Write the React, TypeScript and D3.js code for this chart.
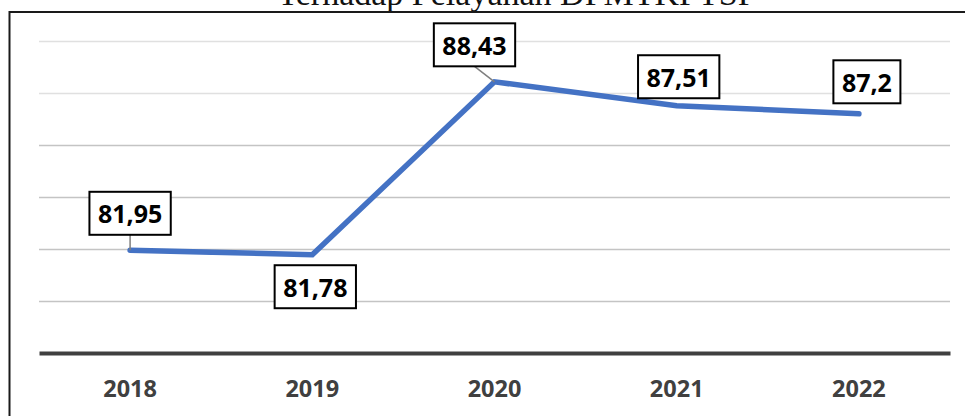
import React, { useRef, useEffect } from 'react';
import * as d3 from 'd3';

const years = ['2018', '2019', '2020', '2021', '2022'];
const scores = [81.95, 81.78, 88.43, 87.51, 87.2];
const scoreLabels = ['81,95', '81,78', '88,43', '87,51', '87,2'];
const gridValues = [80, 82, 84, 86, 88, 90];
const titleText = 'Terhadap Pelayanan DPMTKPTSP';

// where each label box sits relative to its point
const labelOffsets: [number, number][] = [[0, -37], [3, 32], [-20, -37], [2, -29], [8, -32]];

const W = 965;
const H = 416;

const App: React.FC = () => {
  const svgRef = useRef<SVGSVGElement | null>(null);

  useEffect(() => {
    const svg = d3.select(svgRef.current);
    svg.selectAll('*').remove();

    const left = 39, right = 950, top = 41, bottom = 353;

    const x = d3.scaleBand().domain(years).range([left, right]);
    const y = d3.scaleLinear().domain([78, 90]).range([bottom, top]);
    const cx = (d: string) => (x(d) || 0) + x.bandwidth() / 2;

    // title (cut at top, like the source) and frame
    svg.append('text')
      .attr('x', 517)
      .attr('y', 5)
      .attr('text-anchor', 'middle')
      .style('font-family', '"Liberation Serif", "Times New Roman", serif')
      .style('font-size', '34px')
      .attr('fill', '#111')
      .text(titleText);

    svg.append('path')
      .attr('d', `M9.5,${H} L9.5,12 L${W},12`)
      .attr('fill', 'none')
      .attr('stroke', '#1a1a1a')
      .attr('stroke-width', 2);

    // gridlines
    svg.append('g')
      .selectAll('line')
      .data(gridValues)
      .enter()
      .append('line')
      .attr('x1', left)
      .attr('x2', right)
      .attr('y1', d => Math.round(y(d)) + 0.5)
      .attr('y2', d => Math.round(y(d)) + 0.5)
      .attr('stroke', d => (d >= 88 ? '#e0e0e0' : '#c4c4c4'))
      .attr('stroke-width', 1.5);

    // x axis
    const xAxis = svg.append('g')
      .attr('transform', `translate(0, ${bottom})`)
      .call(d3.axisBottom(x).tickSize(0).tickPadding(27));
    xAxis.select('.domain')
      .attr('stroke', '#404040')
      .attr('stroke-width', 4);
    xAxis.selectAll('text')
      .attr('fill', '#404040')
      .style('font-family', '"Open Sans", sans-serif')
      .style('font-weight', 700)
      .style('font-size', '23.5px');

    // line
    const line = d3.line<number>()
      .x((_, i) => cx(years[i]))
      .y(d => y(d));

    svg.append('path')
      .datum(scores)
      .attr('d', line)
      .attr('fill', 'none')
      .attr('stroke', '#4472C4')
      .attr('stroke-width', 5.5)
      .attr('stroke-linecap', 'round')
      .attr('stroke-linejoin', 'miter');

    // data labels
    const labels = svg.append('g');
    scores.forEach((v, i) => {
      const px = cx(years[i]);
      const py = y(v);
      const bx = px + labelOffsets[i][0];
      const by = py + labelOffsets[i][1];

      const g = labels.append('g');
      const t = g.append('text')
        .attr('x', bx)
        .attr('y', by)
        .attr('text-anchor', 'middle')
        .attr('dominant-baseline', 'central')
        .attr('fill', '#000')
        .style('font-family', '"Open Sans", sans-serif')
        .style('font-weight', 700)
        .style('font-size', '25px')
        .text(scoreLabels[i]);
      const tw = (t.node() as SVGTextElement).getComputedTextLength();
      const bw = tw + 17;
      const bh = 43;

      const boxBottom = by + bh / 2;
      const boxTop = by - bh / 2;
      // leader line only when the box is far enough from its point
      if (py - boxBottom > 12) {
        g.insert('line', 'text')
          .attr('x1', bx)
          .attr('y1', boxBottom)
          .attr('x2', px)
          .attr('y2', py)
          .attr('stroke', '#7f7f7f')
          .attr('stroke-width', 1.5);
      } else if (boxTop - py > 12) {
        g.insert('line', 'text')
          .attr('x1', bx)
          .attr('y1', boxTop)
          .attr('x2', px)
          .attr('y2', py)
          .attr('stroke', '#7f7f7f')
          .attr('stroke-width', 1.5);
      }

      g.insert('rect', 'text')
        .attr('x', bx - bw / 2)
        .attr('y', boxTop)
        .attr('width', bw)
        .attr('height', bh)
        .attr('fill', '#fff')
        .attr('stroke', '#000')
        .attr('stroke-width', 2);
    });
  }, []);

  return (
    <svg
      ref={svgRef}
      width={W}
      height={H}
      style={{ position: 'absolute', left: 0, top: 0, display: 'block', background: '#fff' }}
    />
  );
};

export default App;
